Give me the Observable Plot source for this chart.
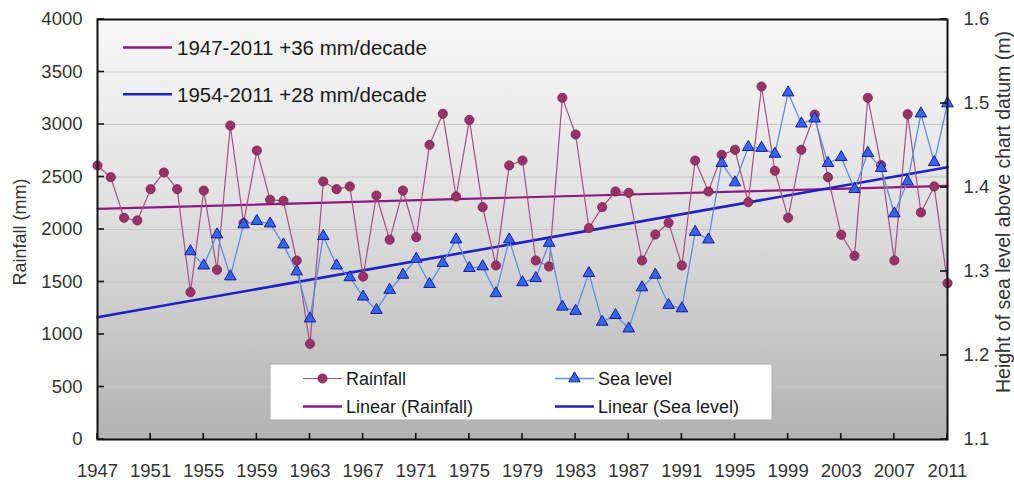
<!DOCTYPE html>
<html><head><meta charset="utf-8">
<script src="https://cdn.jsdelivr.net/npm/d3@7"></script>
<script src="https://cdn.jsdelivr.net/npm/@observablehq/plot@0.6"></script>
<style>
body{margin:0;background:#fff;font-family:"Liberation Sans",Arial,sans-serif;}
#chart{position:relative;width:1014px;height:480px;}
</style></head><body><div id="chart"></div>
<script>
// ---- data ----
const rainYears = d3.range(1947, 2012);
const rainfall = [2610,2498,2111,2086,2384,2543,2384,1403,2371,1616,
  2990,2060,2752,2283,2273,1705,911,2457,2384,2410,
  1552,2324,1902,2371,1927,2806,3102,2314,3044,2213,
  1657,2610,2657,1705,1648,3254,2905,2013,2213,2362,
  2349,1705,1952,2064,1657,2657,2362,2711,2759,2260,
  3362,2559,2111,2759,3095,2498,1949,1749,3254,2613,
  1705,3098,2162,2410,1489];
const seaYears = d3.range(1954, 2012);
const seaLevel = [1.324,1.307,1.344,1.294,1.356,1.360,1.357,1.332,1.300,1.244,
  1.342,1.307,1.293,1.270,1.254,1.278,1.296,1.315,1.285,1.310,
  1.338,1.304,1.306,1.274,1.338,1.287,1.292,1.334,1.258,1.253,
  1.298,1.240,1.248,1.232,1.281,1.296,1.260,1.256,1.347,1.338,
  1.429,1.406,1.448,1.447,1.440,1.513,1.476,1.482,1.429,1.436,
  1.398,1.441,1.423,1.369,1.407,1.488,1.430,1.500];
const trendYears = [1947, 2011];
const rainTrend = [2197, 2415];
const seaTrend = [1.2456, 1.424];
const rainTicks = [0,500,1000,1500,2000,2500,3000,3500,4000];
const seaTicks = [1.1,1.2,1.3,1.4,1.5,1.6];
const yearTicks = [1947,1951,1955,1959,1963,1967,1971,1975,1979,1983,1987,1991,1995,1999,2003,2007,2011];
const annotations = ["1947-2011 +36 mm/decade", "1954-2011 +28 mm/decade"];
const legendLabels = ["Rainfall", "Sea level", "Linear (Rainfall)", "Linear (Sea level)"];

// ---- helpers ----
const seaMin = 1.1, seaMax = 1.6, rainMax = 4000;
const toRain = v => (v - seaMin) / (seaMax - seaMin) * rainMax;
const fromRain = r => seaMin + r / rainMax * (seaMax - seaMin);

const rainData = rainYears.map((y, i) => ({year: y, v: rainfall[i]}));
const seaData = seaYears.map((y, i) => ({year: y, v: toRain(seaLevel[i])}));
const rainTrendData = trendYears.map((y, i) => ({year: y, v: rainTrend[i]}));
const seaTrendData = trendYears.map((y, i) => ({year: y, v: toRain(seaTrend[i])}));

const C = {
  rain: "#993366", rainStroke: "#7a2050", rainLine: "#a65080",
  sea: "#3366ee", seaStroke: "#1a1a99", seaLine: "#5a8ee8",
  rainTrend: "#8b1a7e", seaTrend: "#1f1fc8"
};

const plot = Plot.plot({
  width: 1014, height: 480,
  marginLeft: 97, marginRight: 67, marginTop: 19, marginBottom: 41,
  style: {fontFamily: "'Liberation Sans', Arial, sans-serif", fontSize: "18.5px", color: "#333", background: "transparent"},
  x: {domain: [1947, 2011]},
  y: {domain: [0, 4000]},
  marks: [
    Plot.frame({fill: "#ddd"}),
    Plot.ruleY(rainTicks.slice(1, -1), {stroke: "#c6c6c6", strokeWidth: 1}),
    Plot.line(rainTrendData, {x: "year", y: "v", stroke: C.rainTrend, strokeWidth: 2.2}),
    Plot.line(seaTrendData, {x: "year", y: "v", stroke: C.seaTrend, strokeWidth: 2.6}),
    Plot.line(rainData, {x: "year", y: "v", stroke: C.rainLine, strokeWidth: 1.2}),
    Plot.dot(rainData, {x: "year", y: "v", r: 4.6, fill: C.rain, stroke: C.rainStroke, strokeWidth: 0.8}),
    Plot.line(seaData, {x: "year", y: "v", stroke: C.seaLine, strokeWidth: 1.3}),
    Plot.dot(seaData, {x: "year", y: "v", symbol: "triangle", r: 4.3, fill: C.sea, stroke: C.seaStroke, strokeWidth: 1}),
    Plot.axisY(rainTicks, {anchor: "left", tickSize: 0, tickPadding: 15, label: null,
      tickFormat: d => String(d)}),
    Plot.axisY(seaTicks.map(toRain), {anchor: "right", tickSize: 0, tickPadding: 16, label: null,
      tickFormat: d => fromRain(d).toFixed(1)}),
    Plot.axisX(yearTicks, {anchor: "bottom", tickSize: 0, tickPadding: 24, label: null,
      tickFormat: d => String(d)}),
    Plot.frame({stroke: "#111", strokeWidth: 2})
  ]
});
document.getElementById("chart").appendChild(plot);

const svg = d3.select(plot);
const xs = plot.scale("x"), ys = plot.scale("y");
const x0 = xs.apply(1947), x1 = xs.apply(2011), y0 = ys.apply(0);

// ---- gradient background ----
const defs = svg.insert("defs", ":first-child");
const grad = defs.append("linearGradient").attr("id", "bgGrad")
  .attr("x1", 0).attr("y1", 0).attr("x2", 0).attr("y2", 1);
grad.append("stop").attr("offset", "0%").attr("stop-color", "#f8f8f8");
grad.append("stop").attr("offset", "45%").attr("stop-color", "#e0e0e0");
grad.append("stop").attr("offset", "100%").attr("stop-color", "#b2b2b2");
const fr = svg.select('[aria-label="frame"]');
const frRect = fr.node().tagName.toLowerCase() === "rect" ? fr : fr.select("rect");
frRect.attr("fill", "url(#bgGrad)");

// ---- inward tick marks (positions from the plot's own scales) ----
const tk = svg.append("g").attr("stroke", "#111").attr("stroke-width", 1.6);
rainTicks.forEach(v => {
  const y = ys.apply(v);
  tk.append("line").attr("x1", x0).attr("x2", x0 + 7).attr("y1", y).attr("y2", y);
});
seaTicks.forEach(v => {
  const y = ys.apply(toRain(v));
  tk.append("line").attr("x1", x1 - 7).attr("x2", x1).attr("y1", y).attr("y2", y);
});
yearTicks.forEach(v => {
  const x = xs.apply(v);
  tk.append("line").attr("x1", x).attr("x2", x).attr("y1", y0 - 6).attr("y2", y0);
});

// ---- axis titles ----
const font = "'Liberation Sans', Arial, sans-serif";
svg.append("text").attr("transform", "translate(20,232) rotate(-90)")
  .attr("text-anchor", "middle").attr("dominant-baseline", "central")
  .attr("font-family", font).attr("font-size", 18).attr("fill", "#333")
  .text("Rainfall (mm)");
svg.append("text").attr("transform", "translate(1003,212) rotate(-90)")
  .attr("text-anchor", "middle").attr("dominant-baseline", "central")
  .attr("font-family", font).attr("font-size", 19.5).attr("fill", "#333")
  .text("Height of sea level above chart datum (m)");

// ---- trend annotations (top-left) ----
const ann = svg.append("g");
[[47.5, C.rainTrend], [94.3, C.seaTrend]].forEach(([yy, col], i) => {
  ann.append("line").attr("x1", 123).attr("x2", 172).attr("y1", yy).attr("y2", yy)
    .attr("stroke", col).attr("stroke-width", 2.5);
  ann.append("text").attr("x", 177).attr("y", yy).attr("dominant-baseline", "central")
    .attr("text-anchor", "start")
    .attr("font-family", font).attr("font-size", 20.5).attr("fill", "#1a1a1a")
    .text(annotations[i]);
});

// ---- legend box ----
const lg = svg.append("g");
lg.append("rect").attr("x", 270).attr("y", 364).attr("width", 502).attr("height", 56)
  .attr("fill", "#fff").attr("stroke", "#aaa").attr("stroke-width", 1);
const items = [
  {x: 303, y: 378.5, type: "circle", label: legendLabels[0]},
  {x: 555, y: 378.5, type: "triangle", label: legendLabels[1]},
  {x: 303, y: 406.5, type: "rtrend", label: legendLabels[2]},
  {x: 555, y: 406.5, type: "strend", label: legendLabels[3]}
];
items.forEach(it => {
  const x2 = it.x + 39, cx = it.x + 19.5;
  if (it.type === "circle") {
    lg.append("line").attr("x1", it.x).attr("x2", x2).attr("y1", it.y).attr("y2", it.y).attr("stroke", C.rainLine).attr("stroke-width", 1.2);
    lg.append("circle").attr("cx", cx).attr("cy", it.y).attr("r", 4.6).attr("fill", C.rain).attr("stroke", C.rainStroke).attr("stroke-width", 0.8);
  } else if (it.type === "triangle") {
    lg.append("line").attr("x1", it.x).attr("x2", x2).attr("y1", it.y).attr("y2", it.y).attr("stroke", C.seaLine).attr("stroke-width", 1.3);
    lg.append("path").attr("transform", `translate(${cx},${it.y})`)
      .attr("d", d3.symbol(d3.symbolTriangle, Math.PI * 4.3 * 4.3)())
      .attr("fill", C.sea).attr("stroke", C.seaStroke).attr("stroke-width", 1);
  } else {
    lg.append("line").attr("x1", it.x).attr("x2", x2).attr("y1", it.y).attr("y2", it.y)
      .attr("stroke", it.type === "rtrend" ? C.rainTrend : C.seaTrend).attr("stroke-width", 2.4);
  }
  lg.append("text").attr("x", x2 + 4).attr("y", it.y).attr("dominant-baseline", "central")
    .attr("text-anchor", "start")
    .attr("font-family", font).attr("font-size", 18).attr("fill", "#1a1a1a").text(it.label);
});
</script></body></html>
